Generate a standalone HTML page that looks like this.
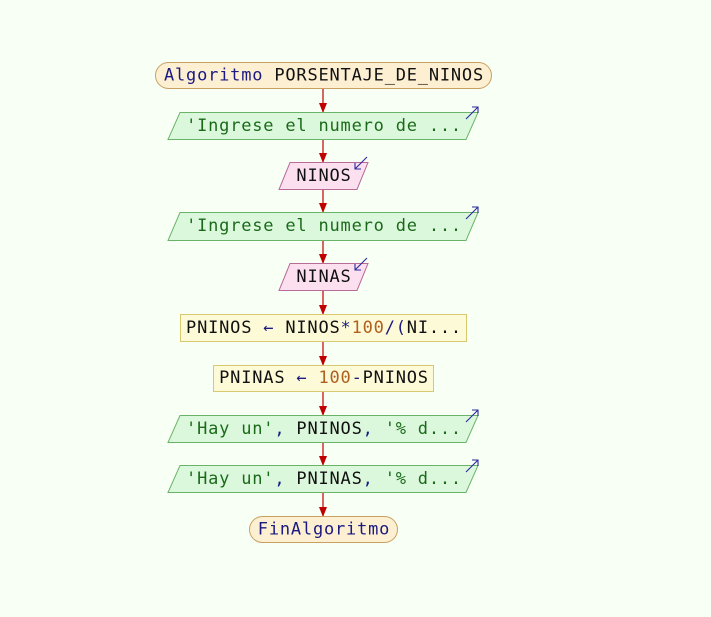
<!DOCTYPE html>
<html><head><meta charset="utf-8"><style>
html,body{margin:0;padding:0;background:#f8fff4;}
svg{display:block}
text{font-family:"DejaVu Sans Mono","Liberation Mono",monospace;font-size:17px;letter-spacing:0.8px;dominant-baseline:central;text-anchor:middle}
</style></head><body>
<svg width="711" height="617" viewBox="0 0 711 617" xmlns="http://www.w3.org/2000/svg">
<defs>
<marker id="a" markerWidth="10" markerHeight="8" refX="9" refY="4" orient="auto" markerUnits="userSpaceOnUse">
<path d="M0,0 L10,4 L0,8 z" fill="#c00000"/></marker>
</defs>
<g stroke="#c00000" stroke-width="1.2" marker-end="url(#a)">
<line x1="323" y1="88" x2="323" y2="112"/>
<line x1="323" y1="139" x2="323" y2="162"/>
<line x1="323" y1="189" x2="323" y2="212"/>
<line x1="323" y1="240" x2="323" y2="263"/>
<line x1="323" y1="290" x2="323" y2="314"/>
<line x1="323" y1="341" x2="323" y2="365"/>
<line x1="323" y1="391" x2="323" y2="415"/>
<line x1="323" y1="442" x2="323" y2="465"/>
<line x1="323" y1="492" x2="323" y2="516"/>
</g>
<rect x="155.5" y="62.5" width="336" height="26" rx="13" fill="#fdefd2" stroke="#c8a060"/>
<text x="324" y="75.5"><tspan fill="#1a1a80">Algoritmo</tspan> <tspan fill="#111">PORSENTAJE_DE_NINOS</tspan></text>
<g fill="#dcf8dc" stroke="#6ab46a">
<polygon points="180,112.5 478,112.5 466,139.5 168,139.5"/>
<polygon points="180,212.5 478,212.5 466,240.5 168,240.5"/>
<polygon points="180,415.5 478,415.5 466,442.5 168,442.5"/>
<polygon points="180,465.5 478,465.5 466,492.5 168,492.5"/>
</g>
<g fill="#fce0f0" stroke="#b86a98">
<polygon points="290,162.5 368,162.5 357,189.5 279,189.5"/>
<polygon points="290,263.5 368,263.5 357,290.5 279,290.5"/>
</g>
<g stroke="#2a2a9a" stroke-width="1.1" fill="none">
<path d="M466,119 L478,107 M472,107 L478,107 L478,113"/>
<path d="M466,219 L478,207 M472,207 L478,207 L478,213"/>
<path d="M466,422 L478,410 M472,410 L478,410 L478,416"/>
<path d="M466,472 L478,460 M472,460 L478,460 L478,466"/>
<path d="M367,157 L355,169 M355,163 L355,169 L361,169"/>
<path d="M367,258 L355,270 M355,264 L355,270 L361,270"/>
</g>
<text x="324" y="126" fill="#1a6a1a">'Ingrese el numero de ...</text>
<text x="324" y="226" fill="#1a6a1a">'Ingrese el numero de ...</text>
<text x="324" y="429"><tspan fill="#1a6a1a">'Hay un'</tspan><tspan fill="#1a1a80">,</tspan><tspan fill="#111"> PNINOS</tspan><tspan fill="#1a1a80">,</tspan><tspan fill="#1a6a1a"> '% d...</tspan></text>
<text x="324" y="479"><tspan fill="#1a6a1a">'Hay un'</tspan><tspan fill="#1a1a80">,</tspan><tspan fill="#111"> PNINAS</tspan><tspan fill="#1a1a80">,</tspan><tspan fill="#1a6a1a"> '% d...</tspan></text>
<text x="324" y="176" fill="#111">NINOS</text>
<text x="324" y="277" fill="#111">NINAS</text>
<g fill="#fdfad8" stroke="#d8c870">
<rect x="180.5" y="314.5" width="286" height="27"/>
<rect x="213.5" y="365.5" width="220" height="26"/>
</g>
<text x="324" y="328"><tspan fill="#111">PNINOS </tspan><tspan fill="#1a1a80">←</tspan><tspan fill="#111"> NINOS</tspan><tspan fill="#1a1a80">*</tspan><tspan fill="#b06020">100</tspan><tspan fill="#1a1a80">/(</tspan><tspan fill="#111">NI...</tspan></text>
<text x="324" y="378"><tspan fill="#111">PNINAS </tspan><tspan fill="#1a1a80">←</tspan><tspan fill="#b06020"> 100</tspan><tspan fill="#1a1a80">-</tspan><tspan fill="#111">PNINOS</tspan></text>
<rect x="249.5" y="516.5" width="148" height="26" rx="13" fill="#fdefd2" stroke="#c8a060"/>
<text x="324" y="529.5" fill="#1a1a80">FinAlgoritmo</text>
</svg>
</body></html>
